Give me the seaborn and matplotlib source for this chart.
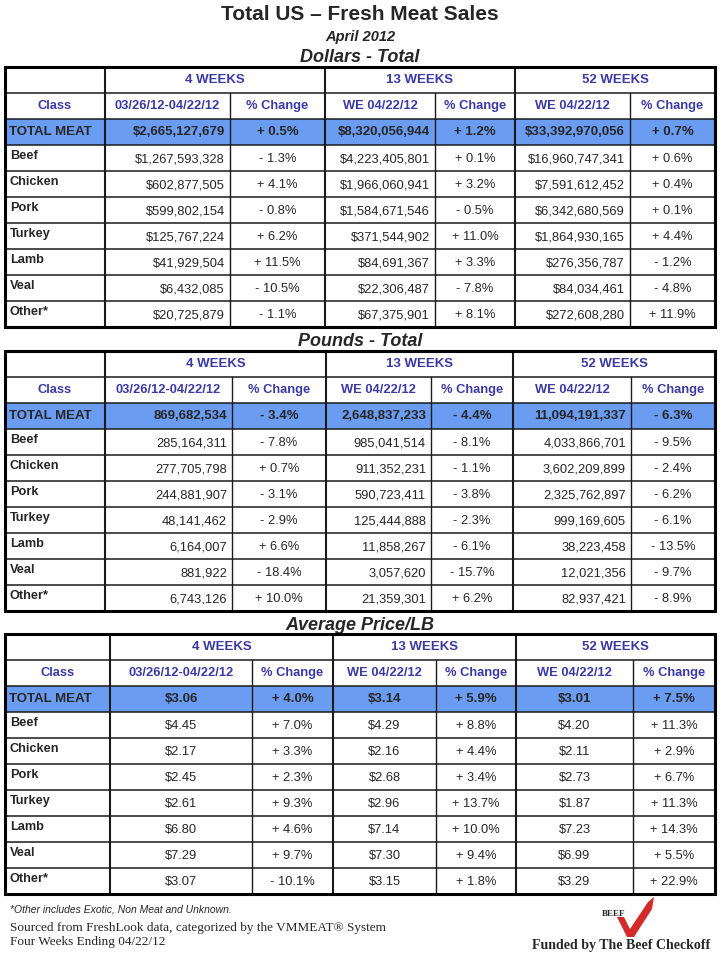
import matplotlib
matplotlib.use("Agg")
import matplotlib.pyplot as plt
from matplotlib.patches import Rectangle, Polygon
import seaborn as sns
import pandas as pd

# ---- data ----
classes = ['TOTAL MEAT', 'Beef', 'Chicken', 'Pork', 'Turkey', 'Lamb', 'Veal', 'Other*']
group_labels = ['4 WEEKS', '13 WEEKS', '52 WEEKS']
col_headers = ['Class', '03/26/12-04/22/12', '% Change', 'WE 04/22/12', '% Change',
               'WE 04/22/12', '% Change']

dollars_4w = ['$2,665,127,679', '$1,267,593,328', '$602,877,505', '$599,802,154',
              '$125,767,224', '$41,929,504', '$6,432,085', '$20,725,879']
dollars_4w_chg = ['+ 0.5%', '- 1.3%', '+ 4.1%', '- 0.8%', '+ 6.2%', '+ 11.5%', '- 10.5%', '- 1.1%']
dollars_13w = ['$8,320,056,944', '$4,223,405,801', '$1,966,060,941', '$1,584,671,546',
               '$371,544,902', '$84,691,367', '$22,306,487', '$67,375,901']
dollars_13w_chg = ['+ 1.2%', '+ 0.1%', '+ 3.2%', '- 0.5%', '+ 11.0%', '+ 3.3%', '- 7.8%', '+ 8.1%']
dollars_52w = ['$33,392,970,056', '$16,960,747,341', '$7,591,612,452', '$6,342,680,569',
               '$1,864,930,165', '$276,356,787', '$84,034,461', '$272,608,280']
dollars_52w_chg = ['+ 0.7%', '+ 0.6%', '+ 0.4%', '+ 0.1%', '+ 4.4%', '- 1.2%', '- 4.8%', '+ 11.9%']

pounds_4w = ['869,682,534', '285,164,311', '277,705,798', '244,881,907',
             '48,141,462', '6,164,007', '881,922', '6,743,126']
pounds_4w_chg = ['- 3.4%', '- 7.8%', '+ 0.7%', '- 3.1%', '- 2.9%', '+ 6.6%', '- 18.4%', '+ 10.0%']
pounds_13w = ['2,648,837,233', '985,041,514', '911,352,231', '590,723,411',
              '125,444,888', '11,858,267', '3,057,620', '21,359,301']
pounds_13w_chg = ['- 4.4%', '- 8.1%', '- 1.1%', '- 3.8%', '- 2.3%', '- 6.1%', '- 15.7%', '+ 6.2%']
pounds_52w = ['11,094,191,337', '4,033,866,701', '3,602,209,899', '2,325,762,897',
              '999,169,605', '38,223,458', '12,021,356', '82,937,421']
pounds_52w_chg = ['- 6.3%', '- 9.5%', '- 2.4%', '- 6.2%', '- 6.1%', '- 13.5%', '- 9.7%', '- 8.9%']

price_4w = ['$3.06', '$4.45', '$2.17', '$2.45', '$2.61', '$6.80', '$7.29', '$3.07']
price_4w_chg = ['+ 4.0%', '+ 7.0%', '+ 3.3%', '+ 2.3%', '+ 9.3%', '+ 4.6%', '+ 9.7%', '- 10.1%']
price_13w = ['$3.14', '$4.29', '$2.16', '$2.68', '$2.96', '$7.14', '$7.30', '$3.15']
price_13w_chg = ['+ 5.9%', '+ 8.8%', '+ 4.4%', '+ 3.4%', '+ 13.7%', '+ 10.0%', '+ 9.4%', '+ 1.8%']
price_52w = ['$3.01', '$4.20', '$2.11', '$2.73', '$1.87', '$7.23', '$6.99', '$3.29']
price_52w_chg = ['+ 7.5%', '+ 11.3%', '+ 2.9%', '+ 6.7%', '+ 11.3%', '+ 14.3%', '+ 5.5%', '+ 22.9%']

dollars = pd.DataFrame({'Class': classes, 'v4': dollars_4w, 'c4': dollars_4w_chg,
                        'v13': dollars_13w, 'c13': dollars_13w_chg,
                        'v52': dollars_52w, 'c52': dollars_52w_chg})
pounds = pd.DataFrame({'Class': classes, 'v4': pounds_4w, 'c4': pounds_4w_chg,
                       'v13': pounds_13w, 'c13': pounds_13w_chg,
                       'v52': pounds_52w, 'c52': pounds_52w_chg})
price = pd.DataFrame({'Class': classes, 'v4': price_4w, 'c4': price_4w_chg,
                      'v13': price_13w, 'c13': price_13w_chg,
                      'v52': price_52w, 'c52': price_52w_chg})

sns.set_theme(style='white')
NARROW = ['Liberation Sans Narrow', 'Liberation Sans', 'DejaVu Sans']
SANS = ['Liberation Sans', 'DejaVu Sans']
SERIF = ['Liberation Serif', 'DejaVu Serif']
plt.rcParams['font.family'] = SANS

HEAD_BLUE = '#3a3aa6'
TOTAL_FILL = '#6a9cf2'
ROW_H = 26

fig = plt.figure(figsize=(7.2, 9.6), dpi=100)
ax = fig.add_axes([0, 0, 1, 1])
ax.set_xlim(0, 720)
ax.set_ylim(960, 0)
ax.axis('off')


def draw_table(df, top, xs, title, value_align):
    n_rows = 2 + len(df)
    bottom = top + n_rows * ROW_H
    ax.text(360, top - 9, title, ha='center', va='center', fontsize=13,
            fontweight='bold', fontstyle='italic', family=NARROW)
    # total row fill
    ax.add_patch(Rectangle((xs[0], top + 2 * ROW_H), xs[-1] - xs[0], ROW_H,
                           facecolor=TOTAL_FILL, edgecolor='none', zorder=1))
    # horizontal rules
    for r in range(1, n_rows):
        y = top + r * ROW_H
        ax.plot([xs[0], xs[-1]], [y, y], color='#1a1a1a', lw=1.1, zorder=2)
    # vertical rules
    for i, x in enumerate(xs[1:-1], start=1):
        y0 = top if i in (1, 3, 5) else top + ROW_H
        lw = 1.5 if i in (1, 3, 5) else 1.0
        ax.plot([x, x], [y0, bottom], color='#1a1a1a', lw=lw, zorder=2)
    ax.add_patch(Rectangle((xs[0], top), xs[-1] - xs[0], bottom - top,
                           facecolor='none', edgecolor='black', lw=2.2, zorder=3))
    # header rows
    for g, lab in enumerate(group_labels):
        xc = (xs[1 + 2 * g] + xs[3 + 2 * g]) / 2
        ax.text(xc, top + ROW_H / 2, lab, ha='center', va='center', fontsize=9.5,
                fontweight='bold', color=HEAD_BLUE, family=NARROW)
    for j, lab in enumerate(col_headers):
        xc = (xs[j] + xs[j + 1]) / 2
        ax.text(xc, top + 1.5 * ROW_H, lab, ha='center', va='center', fontsize=9.3,
                fontweight='bold', color=HEAD_BLUE, family=NARROW)
    # body
    cols = ['v4', 'c4', 'v13', 'c13', 'v52', 'c52']
    for r, row in df.reset_index(drop=True).iterrows():
        y0 = top + (2 + r) * ROW_H
        is_total = r == 0
        if is_total:
            ax.text(xs[0] + 4, y0 + ROW_H / 2, row['Class'], ha='left', va='center',
                    fontsize=9.5, fontweight='bold', family=NARROW)
        else:
            ax.text(xs[0] + 5, y0 + 11, row['Class'], ha='left', va='center',
                    fontsize=9.2, fontweight='bold', family=SANS)
        for j, c in enumerate(cols):
            xl, xr = xs[j + 1], xs[j + 2]
            if j % 2 == 0 and value_align == 'right':
                x, ha = xr - 5, 'right'
            else:
                x, ha = (xl + xr) / 2, 'center'
            if is_total:
                ax.text(x, y0 + ROW_H / 2, row[c], ha=ha, va='center', fontsize=9.5,
                        fontweight='bold', family=NARROW)
            else:
                ax.text(x, y0 + ROW_H / 2 + 1, row[c], ha=ha, va='center',
                        fontsize=9.3, family=SANS)


ax.text(360, 15, 'Total US \u2013 Fresh Meat Sales', ha='center', va='center',
        fontsize=15, fontweight='bold', family=NARROW)
ax.text(360, 37, 'April 2012', ha='center', va='center', fontsize=10.5,
        fontweight='bold', fontstyle='italic', family=NARROW)

draw_table(dollars, 67, [5, 105, 230, 325, 435, 515, 630, 715], 'Dollars - Total', 'right')
draw_table(pounds, 351, [5, 105, 232, 326, 431, 513, 631, 715], 'Pounds - Total', 'right')
draw_table(price, 634, [5, 110, 252, 333, 436, 516, 633, 715], 'Average Price/LB', 'center')

# footer
ax.text(10, 910, '*Other includes Exotic, Non Meat and Unknown.', ha='left', va='center',
        fontsize=7.5, fontstyle='italic', family=NARROW)
ax.text(10, 928, 'Sourced from FreshLook data, categorized by the VMMEAT\u00ae System',
        ha='left', va='center', fontsize=9.5, family=SERIF)
ax.text(10, 942, 'Four Weeks Ending 04/22/12', ha='left', va='center', fontsize=9.5,
        family=SERIF)
ax.text(710, 946, 'Funded by The Beef Checkoff', ha='right', va='center', fontsize=10,
        fontweight='bold', family=SERIF)

# beef checkoff logo
ax.add_patch(Polygon([(617, 917), (624, 917), (630, 929), (648, 902), (654, 897),
                      (652, 909), (634, 937), (627, 937)],
                     closed=True, facecolor='#d32a2a', edgecolor='none'))
ax.text(614, 914, 'BEEF', ha='center', va='center', fontsize=6.5, fontweight='bold',
        family=SERIF)

fig.savefig('out.png', dpi=100)
